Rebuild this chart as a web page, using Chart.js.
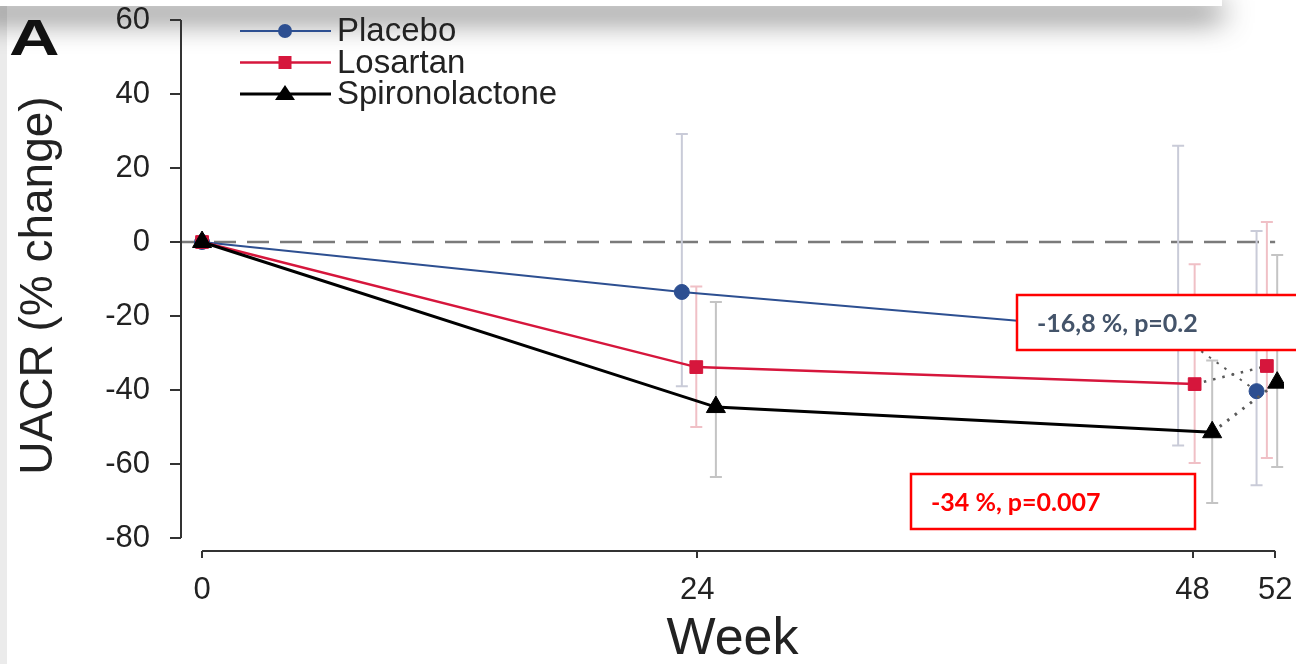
<!DOCTYPE html>
<html>
<head>
<meta charset="utf-8">
<script src="https://cdn.jsdelivr.net/npm/chart.js@4.4.1/dist/chart.umd.min.js"></script>
<style>
  html, body { margin: 0; padding: 0; background: #fff; }
  #wrap { position: relative; width: 1296px; height: 664px; overflow: hidden; }
  #leftStrip { position: absolute; left: 0; top: 0; width: 7px; height: 664px; background: #ebebeb; }
  #topBar { position: absolute; left: -30px; top: -6px; width: 1252px; height: 12px; background: #fff;
            box-shadow: 0 12px 30px rgba(0, 0, 0, 0.8); pointer-events: none; }
  canvas { position: absolute; left: 0; top: 0; }
</style>
</head>
<body>
<div id="wrap">
  <div id="leftStrip"></div>
  <div id="topBar"></div>
  <canvas id="uacrChart" width="1296" height="664"></canvas>
</div>
<script>
// weeks of follow-up and tick labels
const weeks = [0, 24, 48, 52];
const xTicks = [0, 24, 48, 52];
const yTicks = [-80, -60, -40, -20, 0, 20, 40, 60];

// mean % change in UACR
const placebo = [0, -13.5, -25, -40.3];
const losartan = [0, -33.8, -38.4, -33.5];
const spironolactone = [0, -44.6, -51.4, -38];

// error bar limits
const placeboLow = [0, -39, -55, -65.7];
const placeboHigh = [0, 29.2, 26, 3];
const losartanLow = [0, -50, -59.7, -58.4];
const losartanHigh = [0, -12, -6, 5.4];
const spironolactoneLow = [0, -63.5, -70.5, -60.8];
const spironolactoneHigh = [0, -16.2, -32, -3.5];

// horizontal dodge in weeks so the groups don't overlap
const placeboDodge = [0, -0.75, -0.7, -0.9];
const losartanDodge = [0, -0.05, 0.1, -0.4];
const spironolactoneDodge = [0, 0.9, 0.95, 0.1];

const COLORS = {
    placebo: '#2d4f91',
    losartan: '#d6163c',
    spiro: '#000000'
};

function toPoints(values, dodge) {
    return values.map((v, i) => ({ x: weeks[i] + dodge[i], y: v }));
}

const dotted = {
    borderDash: ctx => ctx.p0DataIndex === 2 ? [2.5, 7] : undefined,
    borderColor: ctx => ctx.p0DataIndex === 2 ? '#5a5a5a' : undefined
};

const errorBarsPlugin = {
    id: 'errorBars',
    beforeDatasetsDraw(chart) {
        const { ctx, scales: { x, y } } = chart;
        ctx.save();
        // dashed reference line at 0
        ctx.strokeStyle = '#7a7a7a';
        ctx.lineWidth = 2.5;
        ctx.setLineDash([22, 11]);
        ctx.beginPath();
        ctx.moveTo(x.getPixelForValue(x.min), y.getPixelForValue(0));
        ctx.lineTo(x.getPixelForValue(52), y.getPixelForValue(0));
        ctx.stroke();
        ctx.setLineDash([]);

        chart.data.datasets.forEach(ds => {
            ctx.strokeStyle = ds.errColor;
            ctx.lineWidth = 2;
            ds.data.forEach((p, j) => {
                const lo = ds.errLow[j], hi = ds.errHigh[j];
                if (lo === hi) return;
                const px = x.getPixelForValue(p.x);
                const y1 = y.getPixelForValue(hi), y2 = y.getPixelForValue(lo);
                ctx.beginPath();
                ctx.moveTo(px, y1); ctx.lineTo(px, y2);
                ctx.moveTo(px - 6, y1); ctx.lineTo(px + 6, y1);
                ctx.moveTo(px - 6, y2); ctx.lineTo(px + 6, y2);
                ctx.stroke();
            });
        });
        ctx.restore();
    },
    afterDraw(chart) {
        const { ctx, scales: { x, y } } = chart;
        ctx.save();

        // axis lines (detached, R style)
        ctx.strokeStyle = '#333';
        ctx.lineWidth = 2;
        ctx.beginPath();
        ctx.moveTo(chart.chartArea.left, y.getPixelForValue(60));
        ctx.lineTo(chart.chartArea.left, y.getPixelForValue(-80));
        ctx.moveTo(x.getPixelForValue(0), chart.chartArea.bottom);
        ctx.lineTo(x.getPixelForValue(52), chart.chartArea.bottom);
        ctx.stroke();

        // annotation boxes
        const boxes = [
            { x: 1017, y: 295, w: 300, h: 55, text: '-16,8 %, p=0.2', color: '#44546a' },
            { x: 911, y: 474, w: 284, h: 55, text: '-34 %, p=0.007', color: '#ff0000' }
        ];
        boxes.forEach(b => {
            ctx.fillStyle = '#fff';
            ctx.fillRect(b.x, b.y, b.w, b.h);
            ctx.strokeStyle = '#ff0000';
            ctx.lineWidth = 2.5;
            ctx.strokeRect(b.x, b.y, b.w, b.h);
            ctx.fillStyle = b.color;
            ctx.font = 'bold 25px Lato, "Open Sans", sans-serif';
            ctx.textBaseline = 'middle';
            ctx.textAlign = 'left';
            ctx.fillText(b.text, b.x + 20, b.y + b.h / 2 + 1);
        });

        // legend
        const items = [
            { label: 'Placebo', color: COLORS.placebo, style: 'circle', width: 2 },
            { label: 'Losartan', color: COLORS.losartan, style: 'rect', width: 2.5 },
            { label: 'Spironolactone', color: COLORS.spiro, style: 'triangle', width: 3 }
        ];
        items.forEach((it, i) => {
            const ly = 31 + i * 31.5;
            ctx.strokeStyle = it.color;
            ctx.fillStyle = it.color;
            ctx.lineWidth = it.width;
            ctx.beginPath();
            ctx.moveTo(240, ly); ctx.lineTo(331, ly);
            ctx.stroke();
            ctx.beginPath();
            if (it.style === 'circle') {
                ctx.arc(285, ly, 7, 0, Math.PI * 2);
            } else if (it.style === 'rect') {
                ctx.rect(278.5, ly - 6.5, 13, 13);
            } else {
                ctx.moveTo(285, ly - 9);
                ctx.lineTo(295, ly + 6);
                ctx.lineTo(275, ly + 6);
                ctx.closePath();
            }
            ctx.fill();
            ctx.fillStyle = '#222';
            ctx.font = '33px "Liberation Sans", Arial, sans-serif';
            ctx.textBaseline = 'middle';
            ctx.fillText(it.label, 337, ly + 1);
        });

        // panel letter
        ctx.fillStyle = '#111';
        ctx.font = 'bold 50px "Liberation Sans", Arial, sans-serif';
        ctx.textBaseline = 'alphabetic';
        ctx.translate(9, 55);
        ctx.scale(1.4, 1);
        ctx.fillText('A', 0, 0);
        ctx.restore();
    }
};

const tickFont = { family: '"Liberation Sans", Arial, sans-serif', size: 31 };

new Chart(document.getElementById('uacrChart'), {
    type: 'line',
    data: {
        datasets: [
            {
                label: 'Spironolactone',
                data: toPoints(spironolactone, spironolactoneDodge),
                errLow: spironolactoneLow, errHigh: spironolactoneHigh, errColor: '#c4c4c4',
                borderColor: COLORS.spiro, backgroundColor: COLORS.spiro,
                borderWidth: 3, pointStyle: 'triangle', pointRadius: 11, pointBorderWidth: 1,
                segment: dotted
            },
            {
                label: 'Losartan',
                data: toPoints(losartan, losartanDodge),
                errLow: losartanLow, errHigh: losartanHigh, errColor: '#f0c0c6',
                borderColor: COLORS.losartan, backgroundColor: COLORS.losartan,
                borderWidth: 2.5, pointStyle: 'rect', pointRadius: 9, pointBorderWidth: 1,
                segment: dotted
            },
            {
                label: 'Placebo',
                data: toPoints(placebo, placeboDodge),
                errLow: placeboLow, errHigh: placeboHigh, errColor: '#c9cbd8',
                borderColor: COLORS.placebo, backgroundColor: COLORS.placebo,
                borderWidth: 2, pointStyle: 'circle', pointRadius: 7.5, pointBorderWidth: 1,
                segment: dotted
            }
        ]
    },
    options: {
        responsive: false,
        animation: false,
        devicePixelRatio: 1,
        layout: { padding: { top: 20, right: 6, left: 0, bottom: 0 } },
        plugins: {
            legend: { display: false },
            tooltip: { enabled: false }
        },
        scales: {
            x: {
                type: 'linear',
                min: -1.02,
                max: 52.43,
                afterBuildTicks: s => { s.ticks = xTicks.map(v => ({ value: v })); },
                afterFit: s => { s.height = 113; s.paddingLeft = 0; s.paddingRight = 0; },
                ticks: { font: tickFont, color: '#222', padding: 14, maxRotation: 0, autoSkip: false },
                grid: { drawOnChartArea: false, tickLength: 7, color: '#333', lineWidth: 2 },
                border: { display: false },
                title: {
                    display: true, text: 'Week', color: '#222',
                    font: { family: '"Liberation Sans", Arial, sans-serif', size: 52, lineHeight: 1 },
                    padding: { top: 0, bottom: -2 }
                }
            },
            y: {
                min: -83.5,
                max: 60,
                afterBuildTicks: s => { s.ticks = yTicks.map(v => ({ value: v })); },
                afterFit: s => { s.width = 181; s.paddingTop = 0; s.paddingBottom = 0; },
                ticks: { font: tickFont, color: '#222', padding: 20 },
                grid: { drawOnChartArea: false, tickLength: 11, color: '#333', lineWidth: 2 },
                border: { display: false },
                title: {
                    display: true, text: 'UACR (% change)', color: '#222',
                    font: { family: '"Liberation Sans", Arial, sans-serif', size: 46, lineHeight: 1.2 },
                    padding: { top: 12, bottom: 0 }
                }
            }
        }
    },
    plugins: [errorBarsPlugin]
});
</script>
</body>
</html>
